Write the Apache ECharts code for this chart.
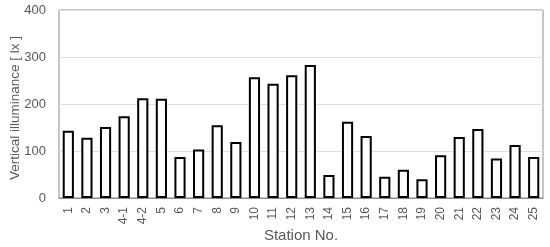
<!DOCTYPE html>
<html>
<head>
<meta charset="utf-8">
<script src="https://cdn.jsdelivr.net/npm/echarts@6/dist/echarts.min.js"></script>
<style>
  html, body { margin: 0; padding: 0; background: #fff; }
  #chart { width: 550px; height: 247px; }
</style>
</head>
<body>
<div id="chart"></div>
<script>
// station numbers along the x axis
const stations = ['1', '2', '3', '4-1', '4-2', '5', '6', '7', '8', '9', '10', '11', '12',
  '13', '14', '15', '16', '17', '18', '19', '20', '21', '22', '23', '24', '25']
// vertical illuminance [lx]
const illuminance = [143, 128, 151, 174, 212, 211, 87, 103, 155, 119, 257, 243, 261,
  283, 49, 162, 132, 45, 60, 40, 91, 130, 147, 84, 113, 87]
const yTicks = [0, 100, 200, 300, 400]

const GRAY = '#595959'
const FONT = 'Liberation Sans, Arial, sans-serif'

const chart = echarts.init(document.getElementById('chart'))
chart.setOption({
  animation: false,
  grid: {
    left: 59, right: 7, top: 10, bottom: 49, outerBoundsMode: 'none',
    show: true, borderColor: '#8c8c8c', borderWidth: 1,
  },
  xAxis: {
    type: 'category', data: stations,
    name: 'Station No.', nameLocation: 'middle', nameGap: 30, nameMoveOverlap: false,
    nameTextStyle: { color: GRAY, fontSize: 15, fontFamily: FONT },
    axisLine: { lineStyle: { color: '#8c8c8c' } },
    axisTick: { show: false },
    axisLabel: { rotate: 90, interval: 0, color: GRAY, fontSize: 12, fontFamily: FONT, margin: 9 },
  },
  yAxis: {
    type: 'value', min: yTicks[0], max: yTicks[yTicks.length - 1], interval: 100,
    name: 'Vertical illuminance [ lx ]', nameLocation: 'middle', nameGap: 37, nameMoveOverlap: false,
    // a little padding at the top end nudges the title down like the original
    nameTextStyle: { color: GRAY, fontSize: 13.5, fontFamily: FONT, padding: [0, 8, 0, 0] },
    axisLine: { show: false }, axisTick: { show: false },
    axisLabel: { color: GRAY, fontSize: 13, fontFamily: FONT, margin: 13 },
    splitLine: { lineStyle: { color: '#e0e0e0' } },
  },
  series: [{
    type: 'bar', data: illuminance, barWidth: '60%',
    itemStyle: { color: '#ffffff', borderColor: '#000000', borderWidth: 2 },
  }],
})
</script>
</body>
</html>
